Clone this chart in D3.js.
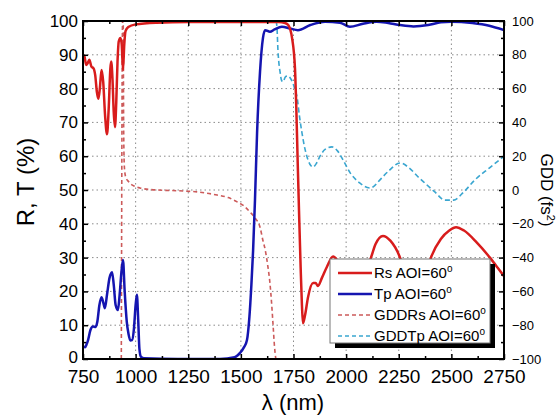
<!DOCTYPE html>
<html>
<head>
<meta charset="utf-8">
<script src="https://cdnjs.cloudflare.com/ajax/libs/d3/7.8.5/d3.min.js"></script>
<style>
  body { margin: 0; background: #fff; }
  text { font-family: "Liberation Sans", Arial, sans-serif; fill: #000; }
</style>
</head>
<body>
<div id="container"></div>
<script>
// wavelength (nm), value (%)
const rsData = [[750,90],[757,89.5],[765,87],[772,87.5],[780,88.5],[790,86.5],[800,86],[808,84],[816,79],[823,77],[830,80],[838,85.5],[846,82],[855,72],[864,66.5],[872,74],[880,86],[884,88],[890,83],[896,73],[902,68.6],[908,76],[914,88],[920,94],[928,95],[934,93],[940,85.5],[946,93],[952,97],[965,98.2],[1000,99],[1100,99.5],[1250,99.7],[1500,99.7],[1680,99.7],[1710,99.4],[1725,98.8],[1743,95],[1757,86],[1763,75],[1770,58],[1777,42],[1784,27],[1790,16],[1795,10.6],[1805,13],[1819,18.3],[1843,22.5],[1855,22.5],[1866,21.6],[1885,24],[1909,27.3],[1938,30.3],[1960,29],[2000,24],[2040,22],[2080,24],[2118,30],[2140,34],[2175,36.4],[2210,35],[2256,30],[2290,23],[2330,20],[2370,23],[2403,30],[2450,35.5],[2490,38],[2522,39],[2560,38],[2620,34.5],[2683,30],[2720,27],[2750,24.5]];

const tpData = [[750,3.6],[760,3.5],[768,4.5],[774,5.6],[785,8.5],[797,9.6],[810,9.5],[818,11],[828,16],[838,18.3],[847,16.5],[854,15],[864,19],[876,24],[888,25.7],[896,22],[905,16],[916,14.5],[924,19],[933,26],[940,29.3],[948,20],[958,11],[966,7.5],[975,5.5],[983,5.6],[992,9],[1000,16],[1006,19],[1012,12],[1018,3],[1025,0.7],[1040,0.2],[1200,0],[1400,0],[1470,0.5],[1496,1.8],[1515,3.5],[1529,5.6],[1540,12],[1550,22],[1558,32],[1567,47],[1577,67],[1591,85],[1605,95],[1615,97.3],[1638,96.8],[1660,97.5],[1695,98.3],[1733,97.8],[1771,97.3],[1830,98.8],[1900,99.8],[1971,99.5],[2018,98.3],[2080,99.2],[2145,99.8],[2200,99.4],[2256,98.8],[2320,98.4],[2390,98.8],[2450,99.6],[2500,99.8],[2600,99.4],[2680,98.6],[2750,97.3]];

// wavelength (nm), GDD (fs^2) on right axis
const gddRsData = [[932,-100],[938,100],[941,100],[943,40],[946,15],[952,8],[966,5],[990,2.5],[1021,1.2],[1068,0.3],[1225,-0.6],[1300,-1.2],[1387,-3],[1440,-4.5],[1482,-7],[1515,-9.5],[1543,-13],[1570,-17],[1591,-22],[1605,-30],[1615,-35],[1628,-45],[1638,-55],[1646,-67],[1653,-80],[1660,-93],[1666,-100]];

const gddTpData = [[1668,100],[1672,95],[1676,83],[1680,76],[1686,70],[1693,65],[1700,64],[1712,67],[1724,67.5],[1736,66],[1748,63],[1758,59],[1767,55],[1778,44],[1790,34],[1805,24],[1819,17.8],[1832,14.5],[1843,13.6],[1860,16],[1876,20],[1900,24],[1933,25.5],[1960,23],[1985,17.8],[2020,10],[2066,4],[2100,1.5],[2113,1.2],[2130,2],[2151,4.7],[2200,11],[2256,16],[2300,13],[2340,8],[2375,4],[2420,-1],[2470,-6],[2510,-6],[2560,-1],[2612,6],[2680,13],[2745,19.5]];

const xTicks = [750,1000,1250,1500,1750,2000,2250,2500,2750];
const yTicks = [0,10,20,30,40,50,60,70,80,90,100];
const y2Ticks = [-100,-80,-60,-40,-20,0,20,40,60,80,100];
const legendLabels = ["Rs AOI=60", "Tp AOI=60", "GDDRs AOI=60", "GDDTp AOI=60"];

const w = 558, h = 417;
const pLeft = 83, pRight = 504, pTop = 21, pBottom = 359;

const x = d3.scaleLinear().domain([750, 2750]).range([pLeft, pRight]);
const y = d3.scaleLinear().domain([0, 100]).range([pBottom, pTop]);
const y2 = d3.scaleLinear().domain([-100, 100]).range([pBottom, pTop]);

const svg = d3.select("#container").append("svg")
  .attr("width", w).attr("height", h)
  .style("background", "#fff");

// grid
const grid = svg.append("g").attr("stroke", "#8a8a8a").attr("stroke-width", 1).attr("stroke-dasharray", "1.5,3");
grid.selectAll("line.gx").data(xTicks.slice(1, -1)).enter().append("line")
  .attr("x1", d => x(d)).attr("x2", d => x(d)).attr("y1", pTop).attr("y2", pBottom);
grid.selectAll("line.gy").data(yTicks.slice(1, -1)).enter().append("line")
  .attr("x1", pLeft).attr("x2", pRight).attr("y1", d => y(d)).attr("y2", d => y(d));

svg.append("clipPath").attr("id", "clip").append("rect")
  .attr("x", pLeft).attr("y", pTop).attr("width", pRight - pLeft).attr("height", pBottom - pTop);

const plot = svg.append("g").attr("clip-path", "url(#clip)");

const lineL = d3.line().x(d => x(d[0])).y(d => y(d[1])).curve(d3.curveMonotoneX);
const lineR = d3.line().x(d => x(d[0])).y(d => y2(d[1])).curve(d3.curveMonotoneX);

plot.append("path").datum(gddRsData).attr("d", lineR)
  .attr("fill", "none").attr("stroke", "#cc5a5a").attr("stroke-width", 1.6).attr("stroke-dasharray", "4,3");
plot.append("path").datum(gddTpData).attr("d", lineR)
  .attr("fill", "none").attr("stroke", "#3aa6d0").attr("stroke-width", 1.6).attr("stroke-dasharray", "5,3");
plot.append("path").datum(tpData).attr("d", lineL)
  .attr("fill", "none").attr("stroke", "#1515b0").attr("stroke-width", 2.5);
plot.append("path").datum(rsData).attr("d", lineL)
  .attr("fill", "none").attr("stroke", "#d81c1c").attr("stroke-width", 2.5);

// axes
const xAxis = d3.axisBottom(x).tickValues(xTicks).tickSize(-5).tickPadding(11).tickFormat(d3.format("d"));
const gx = svg.append("g").attr("transform", "translate(0," + pBottom + ")").call(xAxis);
gx.selectAll("text").style("font-size", "19px");
svg.append("g").attr("transform", "translate(0," + pBottom + ")")
  .call(d3.axisBottom(x).tickValues(d3.range(875, 2750, 250)).tickSize(-3).tickFormat(""));
svg.append("g").attr("transform", "translate(0," + pTop + ")")
  .call(d3.axisTop(x).tickValues(xTicks).tickSize(-5).tickFormat(""));
svg.append("g").attr("transform", "translate(0," + pTop + ")")
  .call(d3.axisTop(x).tickValues(d3.range(875, 2750, 250)).tickSize(-3).tickFormat(""));

const gy = svg.append("g").attr("transform", "translate(" + pLeft + ",0)")
  .call(d3.axisLeft(y).tickValues(yTicks).tickSize(-5).tickPadding(5));
gy.selectAll("text").style("font-size", "17px");
// lift the "0" a little so it clears the "750" below it
gy.selectAll("text").filter(d => d === 0).attr("y", -2);
svg.append("g").attr("transform", "translate(" + pLeft + ",0)")
  .call(d3.axisLeft(y).tickValues(d3.range(5, 100, 10)).tickSize(-3).tickFormat(""));

const gy2 = svg.append("g").attr("transform", "translate(" + pRight + ",0)")
  .call(d3.axisRight(y2).tickValues(y2Ticks).tickSize(-5).tickPadding(8));
gy2.selectAll("text").style("font-size", "13px");
svg.append("g").attr("transform", "translate(" + pRight + ",0)")
  .call(d3.axisRight(y2).tickValues(d3.range(-90, 100, 20)).tickSize(-3).tickFormat(""));

svg.selectAll(".domain").remove();
svg.selectAll(".tick line").attr("stroke", "#000").attr("stroke-width", 1.5);

// frame
svg.append("rect").attr("x", pLeft).attr("y", pTop).attr("width", pRight - pLeft).attr("height", pBottom - pTop)
  .attr("fill", "none").attr("stroke", "#000").attr("stroke-width", 2);

// titles
svg.append("text").attr("transform", "translate(34,182) rotate(-90)")
  .attr("text-anchor", "middle").style("font-size", "24px").text("R, T (%)");
svg.append("text").attr("x", 293).attr("y", 410)
  .attr("text-anchor", "middle").style("font-size", "22px").text("λ (nm)");
const rt = svg.append("text").attr("transform", "translate(541,190) rotate(90)")
  .attr("text-anchor", "middle").style("font-size", "17px");
rt.append("tspan").text("GDD (fs");
rt.append("tspan").attr("dy", -6).style("font-size", "11px").text("2");
rt.append("tspan").attr("dy", 6).text(")");

// legend
const legendStyles = [
  {color: "#d81c1c", width: 2.5, dash: null},
  {color: "#1515b0", width: 2.5, dash: null},
  {color: "#cc5a5a", width: 1.6, dash: "4,3"},
  {color: "#3aa6d0", width: 1.6, dash: "4,3"}
];
const lg = svg.append("g");
lg.append("rect").attr("x", 335).attr("y", 264).attr("width", 160).attr("height", 84).attr("fill", "#000");
lg.append("rect").attr("x", 330).attr("y", 259).attr("width", 160).attr("height", 84)
  .attr("fill", "#fff").attr("stroke", "#777").attr("stroke-width", 1);
const rows = [273, 294, 315, 336];
legendLabels.forEach((lab, i) => {
  const st = legendStyles[i];
  lg.append("line").attr("x1", 338).attr("x2", 372).attr("y1", rows[i]).attr("y2", rows[i])
    .attr("stroke", st.color).attr("stroke-width", st.width).attr("stroke-dasharray", st.dash);
  const t = lg.append("text").attr("x", 374).attr("y", rows[i] + 5).style("font-size", "15px");
  t.append("tspan").text(lab);
  t.append("tspan").attr("dy", -6).style("font-size", "10px").text("o");
});
</script>
</body>
</html>
